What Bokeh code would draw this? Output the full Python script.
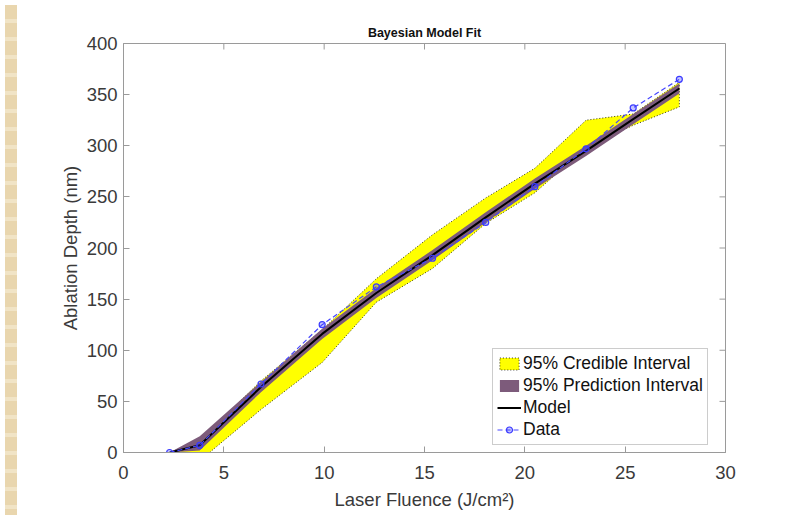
import math
from bokeh.plotting import figure
from bokeh.models import Range1d, FixedTicker, Div
from bokeh.layouts import row
from bokeh.embed import file_html
from bokeh.resources import INLINE

# ---- data ----
fluence = [2.3, 3.8, 6.85, 9.9, 12.6, 15.4, 18.05, 20.5, 23.05, 25.4, 27.7]
depth_data = [0, 7, 67, 125, 162, 190, 225, 260, 297, 337, 365]
model = [0, 7, 64, 116, 156, 193, 230, 263, 295, 326, 356]
cred_lo = [0, -8, 42, 88, 147, 180, 224, 254, 298, 320, 338]
cred_hi = [0, 12, 70, 120, 170, 213, 249, 278, 325, 331, 362]
pred_lo = [0, 2, 59, 111, 151, 188, 225, 258, 290, 321, 351]
pred_hi = [0, 16, 69, 121, 161, 198, 235, 268, 300, 331, 361]
x_ticks = [0, 5, 10, 15, 20, 25, 30]
y_ticks = [0, 50, 100, 150, 200, 250, 300, 350, 400]

FONT = "Liberation Sans"
AXIS_GRAY = "#9a9a9a"
TEXT_GRAY = "#3a3a3a"

p = figure(width=773, height=512, output_backend="svg", toolbar_location=None,
           x_range=Range1d(x_ticks[0], x_ticks[-1]),
           y_range=Range1d(y_ticks[0], y_ticks[-1]),
           min_border_left=101, min_border_right=70,
           min_border_top=43, min_border_bottom=58,
           title="Bayesian Model Fit")
p.background_fill_color = "white"
p.border_fill_color = "white"
p.outline_line_color = AXIS_GRAY
p.outline_line_width = 1
p.grid.visible = False

p.title.align = "center"
p.title.text_font = FONT
p.title.text_font_size = "12.5px"
p.title.text_font_style = "bold"
p.title.text_color = "#111111"
p.title.standoff = 7

# bands (credible interval drawn first, prediction interval above it)
band_x = fluence + fluence[::-1]
p.patch(band_x, cred_hi + cred_lo[::-1], fill_color="#ffff00", line_color="black",
        line_dash="1 2", line_width=0.8, legend_label="95% Credible Interval")
p.patch(band_x, pred_hi + pred_lo[::-1], fill_color="#7d5b7b", line_color=None,
        legend_label="95% Prediction Interval")
p.line(fluence, model, line_color="black", line_width=2, legend_label="Model")
p.line(fluence, depth_data, line_color="#4646ff", line_width=1.2, line_dash="5 3",
       legend_label="Data")
p.scatter(fluence, depth_data, marker="circle", size=6, line_color="#3a3aff",
          fill_color="#3a3aff", fill_alpha=0.3, line_width=1.2, legend_label="Data")

# inward ticks mirrored on the top and right frame edges
p.ray(x=x_ticks, y=[y_ticks[-1]] * len(x_ticks), length=6, length_units="screen",
      angle=-math.pi / 2, line_color=AXIS_GRAY, line_width=1)
p.ray(x=[x_ticks[-1]] * len(y_ticks), y=y_ticks, length=6, length_units="screen",
      angle=math.pi, line_color=AXIS_GRAY, line_width=1)

for ax, ticks in ((p.xaxis[0], x_ticks), (p.yaxis[0], y_ticks)):
    ax.ticker = FixedTicker(ticks=ticks)
    ax.axis_line_color = AXIS_GRAY
    ax.major_tick_line_color = AXIS_GRAY
    ax.major_tick_in = 6
    ax.major_tick_out = 0
    ax.minor_tick_line_color = None
    ax.major_label_text_font = FONT
    ax.major_label_text_color = TEXT_GRAY
    ax.major_label_text_font_size = "18.5px"
    ax.axis_label_text_font = FONT
    ax.axis_label_text_font_size = "18.5px"
    ax.axis_label_text_font_style = "normal"
    ax.axis_label_text_color = TEXT_GRAY
    ax.axis_label_standoff = 3

p.xaxis[0].major_label_standoff = 13
p.xaxis[0].axis_label_standoff = 7
p.yaxis[0].major_label_standoff = 6
p.xaxis[0].axis_label = "Laser Fluence (J/cm\u00b2)"
p.yaxis[0].axis_label = "Ablation Depth (nm)"

lg = p.legend[0]
lg.location = (369, 7)
lg.label_text_font = FONT
lg.label_text_font_size = "17.5px"
lg.label_text_color = "#111111"
lg.glyph_width = 24
lg.glyph_height = 15
lg.label_height = 20
lg.label_standoff = 2
lg.spacing = 1
lg.padding = 4
lg.margin = 0
lg.border_line_color = AXIS_GRAY
lg.background_fill_color = "white"
lg.background_fill_alpha = 1

strip = Div(text="", width=12, height=512,
            styles={"background": "repeating-linear-gradient(180deg, #e9d6ae 0px, #e9d6ae 14px, #f1e4c6 14px, #f1e4c6 18px)"})

layout = row(strip, p, spacing=0)
open("out.html", "w").write(file_html(layout, INLINE))
